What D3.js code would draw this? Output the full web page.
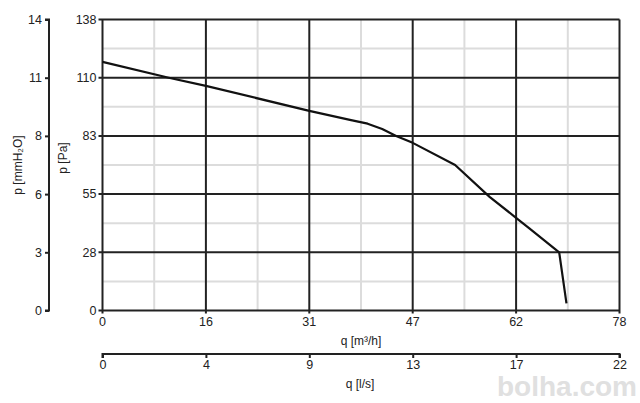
<!DOCTYPE html>
<html><head><meta charset="utf-8">
<script src="https://cdn.jsdelivr.net/npm/d3@7"></script>
<style>
body{margin:0;background:#fff;}
svg{display:block;font-family:"Liberation Sans",Arial,sans-serif;}
</style></head>
<body><svg id="c" width="640" height="403"></svg>
<script>
// data: flow q [m3/h] vs pressure p [Pa]
const flowM3h = [0, 10.0, 15.6, 31.2, 37.5, 40.0, 42.2, 44.3, 46.8, 53.2, 58.4, 62.3, 64.4, 68.9, 70.0];
const pressurePa = [117.9, 110.4, 106.5, 94.7, 90.3, 88.6, 86.1, 82.8, 79.5, 69.0, 53.9, 44.2, 39.0, 27.6, 3.4];
const xTickLabelsM3h = ["0","16","31","47","62","78"];
const xTickLabelsLs = ["0","4","9","13","17","22"];
const yTickLabelsPa = ["0","28","55","83","110","138"];
const yTickLabelsMm = ["0","3","6","8","11","14"];
const xMax = 78, yMax = 138;

const svg = d3.select("#c");
const L = 102.5, R = 619.5, T = 19.5, B = 310.5;
const x = d3.scaleLinear().domain([0, xMax]).range([L, R]);
const y = d3.scaleLinear().domain([0, yMax]).range([B, T]);
const xMajor = d3.range(6).map(i => i * xMax / 5);
const yMajor = d3.range(6).map(i => i * yMax / 5);
const xMinor = d3.range(5).map(i => (i + 0.5) * xMax / 5);
const yMinor = d3.range(5).map(i => (i + 0.5) * yMax / 5);

// minor grid
const g = svg.append("g");
g.selectAll(".mv").data(xMinor).join("line")
  .attr("x1", d => x(d)).attr("x2", d => x(d)).attr("y1", T).attr("y2", B)
  .attr("stroke", "#dcdcdc").attr("stroke-width", 2);
g.selectAll(".mh").data(yMinor).join("line")
  .attr("x1", L).attr("x2", R).attr("y1", d => y(d)).attr("y2", d => y(d))
  .attr("stroke", "#dcdcdc").attr("stroke-width", 2);
// major grid
g.selectAll(".Mv").data(xMajor).join("line")
  .attr("x1", d => x(d)).attr("x2", d => x(d)).attr("y1", T).attr("y2", B + 3)
  .attr("stroke", "#222").attr("stroke-width", 2);
g.selectAll(".Mh").data(yMajor).join("line")
  .attr("x1", L - 4).attr("x2", R).attr("y1", d => y(d)).attr("y2", d => y(d))
  .attr("stroke", "#222").attr("stroke-width", 2);

// Pa axis labels
const txt = "#222";
svg.append("g").selectAll("text").data(yMajor).join("text")
  .attr("x", L - 6).attr("y", d => y(d)).attr("dy", "0.35em")
  .attr("text-anchor", "end").attr("font-size", 12.5).attr("fill", txt)
  .text((d, i) => yTickLabelsPa[i]);

// mmH2O axis
const yMm = d3.scaleLinear().domain([0, yMax]).range([B, T]);
const axMm = d3.axisLeft(yMm).tickValues(yMajor).tickSize(4).tickPadding(3)
  .tickFormat((d, i) => yTickLabelsMm[i]);
const gMm = svg.append("g").attr("transform", "translate(49,0)").call(axMm);
gMm.select(".domain").attr("stroke", "#222").attr("stroke-width", 2).attr("d", `M-4,${T}H0V${B}H-4`);
gMm.selectAll(".tick line").attr("stroke", "#222").attr("stroke-width", 2);
gMm.selectAll(".tick text").attr("font-size", 12.5).attr("fill", txt).attr("font-family", "Liberation Sans, Arial, sans-serif");

// bottom m3/h labels
svg.append("g").selectAll("text").data(xMajor).join("text")
  .attr("x", d => x(d)).attr("y", 322).attr("dy", "0.35em")
  .attr("text-anchor", "middle").attr("font-size", 12.5).attr("fill", txt)
  .text((d, i) => xTickLabelsM3h[i]);

// l/s axis
const axLs = d3.axisBottom(x).tickValues(xMajor).tickSize(4).tickPadding(2)
  .tickFormat((d, i) => xTickLabelsLs[i]);
const gLs = svg.append("g").attr("transform", "translate(0,354)").call(axLs);
gLs.select(".domain").attr("stroke", "#222").attr("stroke-width", 2).attr("d", `M${L},4V0H${R}V4`);
gLs.selectAll(".tick line").attr("stroke", "#222").attr("stroke-width", 2);
gLs.selectAll(".tick text").attr("font-size", 12.5).attr("fill", txt).attr("font-family", "Liberation Sans, Arial, sans-serif");

// axis titles
svg.append("text").attr("transform", "translate(22,165) rotate(-90)")
  .attr("text-anchor", "middle").attr("font-size", 12).attr("fill", txt).text("p [mmH₂O]");
svg.append("text").attr("transform", "translate(67,158) rotate(-90)")
  .attr("text-anchor", "middle").attr("font-size", 12).attr("fill", txt).text("p [Pa]");
svg.append("text").attr("x", 361).attr("y", 345)
  .attr("text-anchor", "middle").attr("font-size", 12).attr("fill", txt).text("q [m³/h]");
svg.append("text").attr("x", 360).attr("y", 388)
  .attr("text-anchor", "middle").attr("font-size", 12).attr("fill", txt).text("q [l/s]");

// curve
const pts = flowM3h.map((q, i) => [q, pressurePa[i]]);
svg.append("path").datum(pts)
  .attr("d", d3.line().x(d => x(d[0])).y(d => y(d[1])))
  .attr("fill", "none").attr("stroke", "#111").attr("stroke-width", 2.2)
  .attr("stroke-linejoin", "round");

// watermark
svg.append("text").attr("x", 497).attr("y", 396).attr("font-size", 28)
  .attr("font-weight", "bold").attr("fill", "#e0e0e0").text("bolha.com");
</script></body></html>
